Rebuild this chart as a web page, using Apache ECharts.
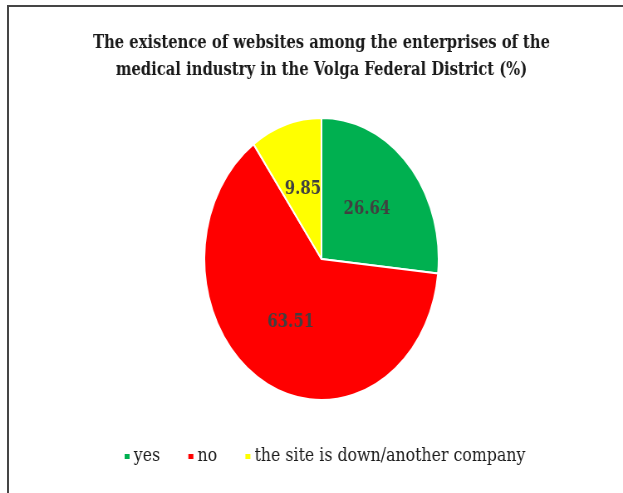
<!DOCTYPE html>
<html>
<head>
<meta charset="utf-8">
<script src="https://cdn.jsdelivr.net/npm/echarts@6/dist/echarts.min.js"></script>
<style>
  html, body { margin: 0; padding: 0; background: #fff; }
  #wrap { position: relative; width: 623px; height: 493px; overflow: hidden; }
  #frame {
    position: absolute; left: 7px; top: 5px; right: -10px; bottom: -10px;
    border-top: 2px solid #454545; border-left: 2px solid #454545;
  }
  /* the original is squeezed horizontally, so draw wider and squeeze */
  #chart {
    position: absolute; left: 0; top: 0;
    width: 750px; height: 493px;
    transform: scaleX(0.8307); transform-origin: 0 0;
  }
</style>
</head>
<body>
<div id="wrap">
  <div id="chart"></div>
  <div id="frame"></div>
</div>
<script>
const titleText = "The existence of websites among the enterprises of the\nmedical industry in the Volga Federal District (%)";
const categories = ["yes", "no", "the site is down/another company"];
const shares = [26.64, 63.51, 9.85];
const sliceColors = ["#00B050", "#FF0000", "#FFFF00"];

const chart = echarts.init(document.getElementById("chart"));

let pieData = [];
for (let i = 0; i < categories.length; i++) {
  pieData.push({
    name: categories[i],
    value: shares[i],
    itemStyle: { color: sliceColors[i] },
  });
}

chart.setOption({
  animation: false,
  title: {
    text: titleText,
    left: 382,
    textAlign: "center",
    top: 25,
    textStyle: {
      fontFamily: "DejaVu Serif",
      fontWeight: "bold",
      fontSize: 17.8,
      lineHeight: 27,
      color: "#1a1a1a",
    },
  },
  legend: {
    bottom: 22,
    left: 143,
    itemWidth: 8,
    itemHeight: 7,
    itemGap: 32,
    icon: "rect",
    textStyle: {
      fontFamily: "DejaVu Serif",
      fontSize: 19,
      color: "#1a1a1a",
      padding: [0, 0, 0, -1],
    },
    data: categories,
  },
  series: [
    {
      type: "pie",
      center: [387, 259],
      radius: [0, 141],
      startAngle: 90,
      clockwise: true,
      itemStyle: { borderColor: "#fff", borderWidth: 2 },
      label: {
        show: true,
        position: "inside",
        formatter: (p) => p.value.toFixed(2),
        fontFamily: "DejaVu Serif",
        fontWeight: "bold",
        fontSize: 18,
        color: "#404040",
      },
      labelLine: { show: false },
      emphasis: { disabled: true },
      data: pieData,
    },
  ],
});
</script>
</body>
</html>
